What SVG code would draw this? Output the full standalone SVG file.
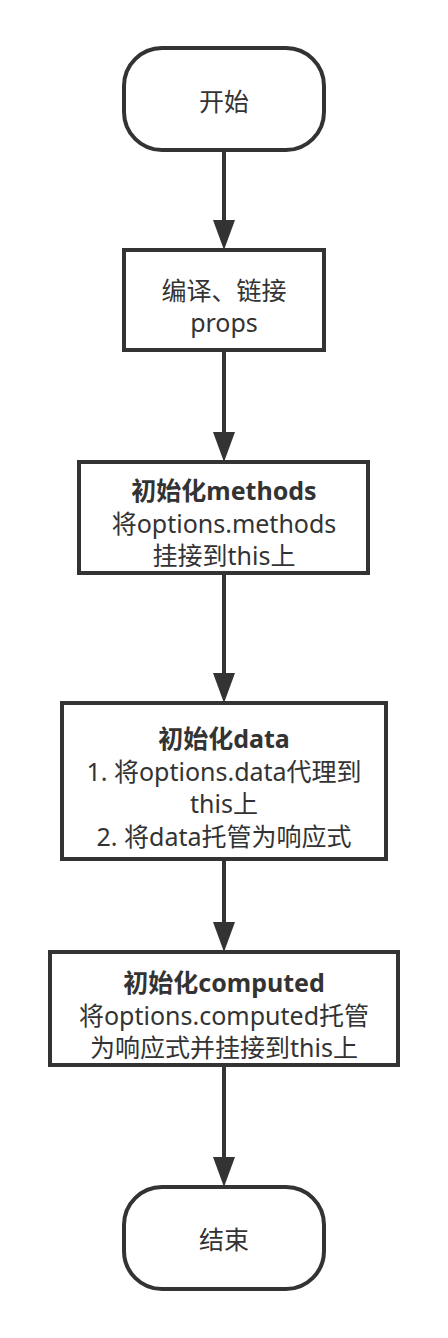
<svg xmlns="http://www.w3.org/2000/svg" width="448" height="1338" viewBox="0 0 448 1338">
  <style>
    .shape { fill: #ffffff; stroke: #333333; stroke-width: 4; }
    .t { font-family: "Noto Sans", "Noto Sans CJK SC", sans-serif; font-size: 25px; fill: #333333; text-anchor: middle; dominant-baseline: central; }
    .b { font-weight: bold; }
    .edge { stroke: #333333; stroke-width: 4; fill: none; marker-end: url(#arrow); }
  </style>
  <defs>
    <marker id="arrow" viewBox="0 -11 30 22" refX="10" refY="0" markerWidth="30" markerHeight="22" markerUnits="userSpaceOnUse" orient="auto">
      <path d="M0,-11 L30,0 L0,11 z" fill="#333333"/>
    </marker>
  </defs>
  <rect width="448" height="1338" fill="#ffffff"/>
  <g id="connectors">
    <line class="edge" x1="224" y1="150" x2="224" y2="230"/>
    <line class="edge" x1="224" y1="350" x2="224" y2="442"/>
    <line class="edge" x1="224" y1="573" x2="224" y2="683"/>
    <line class="edge" x1="224" y1="859" x2="224" y2="932"/>
    <line class="edge" x1="224" y1="1065" x2="224" y2="1167"/>
  </g>
  <g id="start">
    <rect class="shape" x="124" y="48" width="200" height="102" rx="38" ry="38"/>
    <text class="t" x="224" y="101">开始</text>
  </g>
  <g id="compile">
    <rect class="shape" x="124" y="250" width="200" height="100"/>
    <text class="t" x="224" y="290">编译、链接</text>
    <text class="t" x="224" y="322">props</text>
  </g>
  <g id="methods">
    <rect class="shape" x="79" y="462" width="289" height="111"/>
    <text class="t b" x="224" y="490">初始化methods</text>
    <text class="t" x="224" y="523">将options.methods</text>
    <text class="t" x="224" y="555">挂接到this上</text>
  </g>
  <g id="data">
    <rect class="shape" x="62" y="703" width="324" height="156"/>
    <text class="t b" x="224" y="738">初始化data</text>
    <text class="t" x="224" y="771">1. 将options.data代理到</text>
    <text class="t" x="224" y="803">this上</text>
    <text class="t" x="224" y="836">2. 将data托管为响应式</text>
  </g>
  <g id="computed">
    <rect class="shape" x="50" y="952" width="348" height="113"/>
    <text class="t b" x="224" y="982">初始化computed</text>
    <text class="t" x="224" y="1015">将options.computed托管</text>
    <text class="t" x="224" y="1047">为响应式并挂接到this上</text>
  </g>
  <g id="end">
    <rect class="shape" x="124" y="1187" width="200" height="102" rx="38" ry="38"/>
    <text class="t" x="224" y="1239">结束</text>
  </g>
</svg>
